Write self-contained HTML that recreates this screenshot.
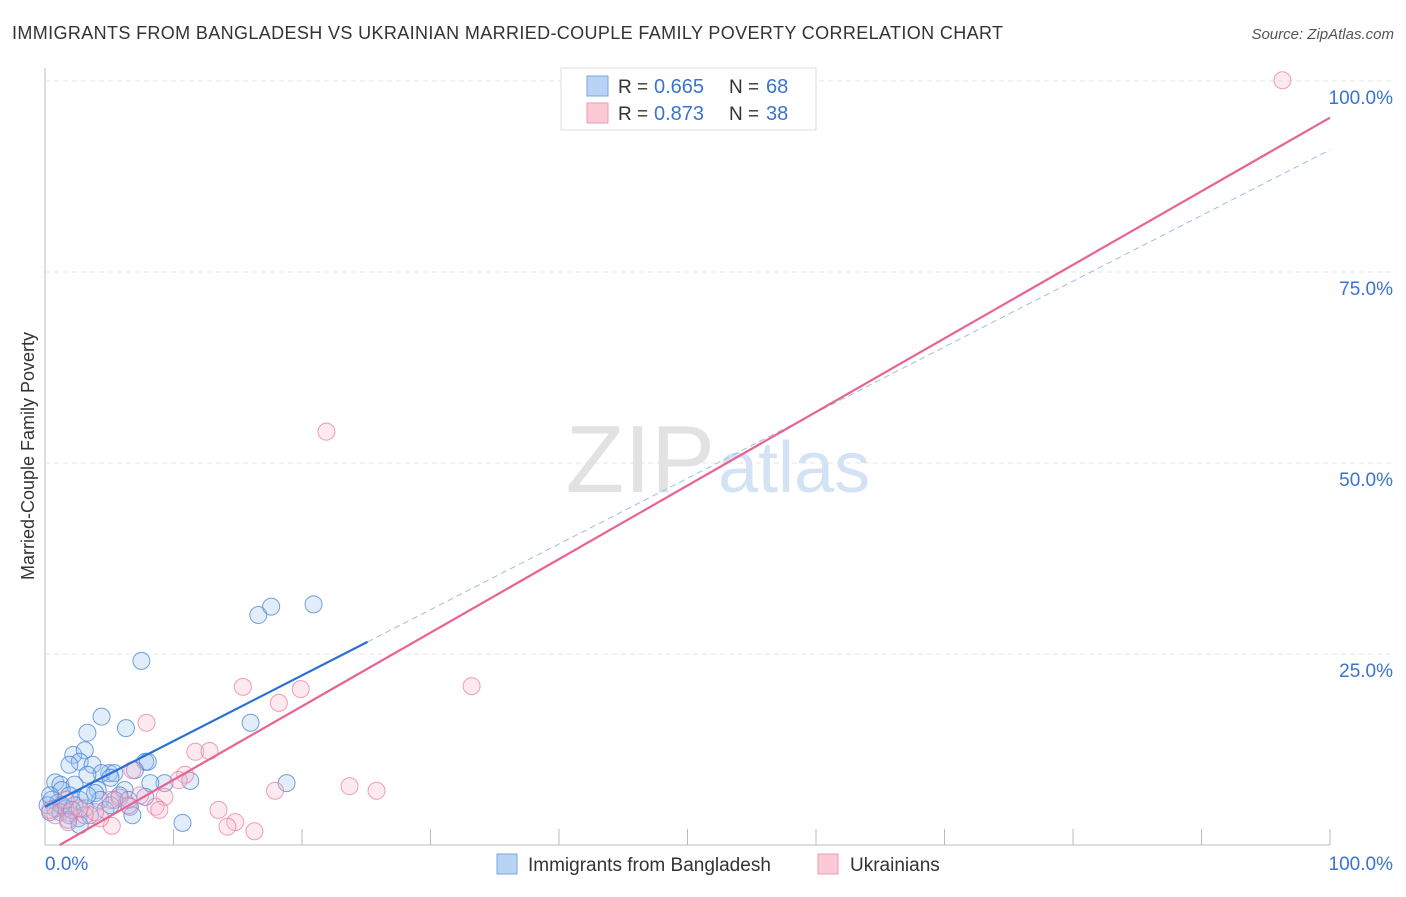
<!DOCTYPE html>
<html><head><meta charset="utf-8"><style>
body{margin:0;background:#fff;font-family:"Liberation Sans",sans-serif;}
svg text{font-family:"Liberation Sans",sans-serif;}
</style></head><body>
<svg id="chart" width="1406" height="892">
<text x="12" y="39" font-size="18" fill="#333" textLength="991">IMMIGRANTS FROM BANGLADESH VS UKRAINIAN MARRIED-COUPLE FAMILY POVERTY CORRELATION CHART</text>
<text x="1394" y="39" font-size="15" fill="#555" font-style="italic" text-anchor="end">Source: ZipAtlas.com</text>
<text transform="translate(34,456) rotate(-90)" font-size="18" fill="#333" text-anchor="middle">Married-Couple Family Poverty</text>
<g id="grid"></g>
<text x="715" y="492" font-size="96" fill="#e2e2e2" font-family="Liberation Serif" text-anchor="end">ZIP</text>
<text x="718" y="492" font-size="72" fill="#d3e3f5">atlas</text>
<g id="marks"></g>
<g>
<rect x="561" y="68" width="255" height="62" fill="#fff" stroke="#ddd"/>
<rect x="587" y="76" width="21" height="20" fill="#b9d3f5" stroke="#7aa7e0"/>
<rect x="587" y="103" width="21" height="20" fill="#fcc9d7" stroke="#ee9ab3"/>
<text x="618" y="93" font-size="19" fill="#333">R =</text>
<text x="654" y="93" font-size="20" fill="#3a73d0">0.665</text>
<text x="729" y="93" font-size="19" fill="#333">N =</text>
<text x="766" y="93" font-size="20" fill="#3a73d0">68</text>
<text x="618" y="120" font-size="19" fill="#333">R =</text>
<text x="654" y="120" font-size="20" fill="#3a73d0">0.873</text>
<text x="729" y="120" font-size="19" fill="#333">N =</text>
<text x="766" y="120" font-size="20" fill="#3a73d0">38</text>
</g>
<g>
<rect x="497" y="854" width="20" height="20" fill="#b9d3f5" stroke="#7aa7e0"/>
<text x="528" y="871" font-size="19" fill="#333">Immigrants from Bangladesh</text>
<rect x="818" y="854" width="20" height="20" fill="#fcc9d7" stroke="#ee9ab3"/>
<text x="850" y="871" font-size="19" fill="#333">Ukrainians</text>
</g>
</svg>
<script>
const blueX=[7.5,16.6,17.6,20.9,4.4,6.3,16.0,3.3,2.2,3.1,2.7,3.7,1.9,7.8,8.0,7.0,5.0,4.4,3.3,5.4,0.8,1.2,2.3,1.3,4.1,5.1,9.3,11.3,18.8,8.2,6.2,1.9,2.7,3.9,5.8,7.8,0.5,1.0,0.2,0.8,1.6,2.3,3.1,4.3,5.4,6.5,4.7,6.6,6.8,0.4,1.2,1.9,2.6,3.5,1.8,2.7,10.7,1.3,2.1,0.4,3.3,5.1];
const blueY=[24.1,30.1,31.2,31.5,16.8,15.3,16.0,14.7,11.8,12.4,10.9,10.5,10.5,10.9,10.9,9.8,9.4,9.4,9.2,9.4,8.2,7.9,7.9,7.2,7.2,8.8,8.1,8.4,8.1,8.1,7.2,6.5,5.9,6.8,6.5,6.3,5.9,5.5,5.2,4.8,4.8,5.2,4.8,5.9,5.9,5.9,4.6,5.0,3.9,4.3,4.3,3.9,3.5,3.9,3.3,2.6,2.9,5.2,4.6,6.5,6.5,5.2];
const pinkX=[96.3,21.9,15.4,19.9,33.2,18.2,7.9,11.7,12.8,10.9,10.4,6.8,9.3,8.6,5.1,23.7,25.8,17.9,13.5,14.8,14.2,16.3,5.2,4.3,3.1,1.9,0.8,0.4,1.6,2.7,5.8,7.4,8.9,3.9,1.8,6.5];
const pinkY=[100.1,54.1,20.7,20.4,20.8,18.6,16.0,12.2,12.3,9.2,8.5,9.8,6.3,5.0,5.9,7.7,7.1,7.1,4.6,3.0,2.4,1.8,2.5,3.5,3.9,4.2,3.9,4.6,5.9,4.8,6.2,6.5,4.6,4.3,3.0,5.2];
const blueFit=[5.0,0.86];
const pinkFit=[-1.1,0.963];
const yTicks=[25,50,75,100];
const xTicks=[10,20,30,40,50,60,70,80,90,100];
const NS='http://www.w3.org/2000/svg';
const sx=v=>45+v*12.85, sy=v=>845-v*7.64;
function mk(tag,attrs,parent){const e=document.createElementNS(NS,tag);for(const k in attrs)e.setAttribute(k,attrs[k]);parent.appendChild(e);return e;}
const grid=document.getElementById('grid'),marks=document.getElementById('marks');
let ax=mk('line',{x1:45,y1:68,x2:45,y2:845,stroke:'#bbb'},grid);


let bx=mk('line',{x1:45,y1:845,x2:1330,y2:845,stroke:'#bbb'},grid);


yTicks.forEach(t=>{
 let g=mk('line',{x1:45,y1:sy(t),x2:1394,y2:sy(t),stroke:'#e4e4e4','stroke-dasharray':'5,4'},grid);
 
 
 let l=mk('text',{x:1393,y:sy(t)+23,'font-size':19,fill:'#3a73d0','text-anchor':'end'},grid);
 l.textContent=t.toFixed(1)+'%';
 
 
});
xTicks.forEach(t=>{
 let k=mk('line',{x1:sx(t),y1:829,x2:sx(t),y2:845,stroke:'#bbb'},grid);
 
 
});
let x0=mk('text',{x:45,y:870,'font-size':19,fill:'#3a73d0'},grid);x0.textContent='0.0%';


let x1=mk('text',{x:1393,y:870,'font-size':19,fill:'#3a73d0','text-anchor':'end'},grid);x1.textContent='100.0%';


blueX.forEach((v,i)=>{
 let c=mk('circle',{cx:sx(v),cy:sy(blueY[i]),r:8.5,fill:'rgba(160,196,240,0.3)',stroke:'rgba(70,130,215,0.75)','stroke-width':1},marks);
 
 
});
pinkX.forEach((v,i)=>{
 let c=mk('circle',{cx:sx(v),cy:sy(pinkY[i]),r:8.5,fill:'rgba(250,185,205,0.3)',stroke:'rgba(232,120,155,0.7)','stroke-width':1},marks);
 
 
});
let bl=mk('line',{x1:sx(0),y1:sy(blueFit[0]),x2:sx(25.1),y2:sy(blueFit[0]+blueFit[1]*25.1),stroke:'#2a6fd6','stroke-width':2.2},marks);


let bd=mk('line',{x1:sx(25.1),y1:sy(blueFit[0]+blueFit[1]*25.1),x2:sx(100),y2:sy(blueFit[0]+blueFit[1]*100),stroke:'#9dbde8','stroke-width':1,'stroke-dasharray':'6,4'},marks);


const px0=-pinkFit[0]/pinkFit[1];
let pl=mk('line',{x1:sx(px0),y1:sy(0),x2:sx(100),y2:sy(pinkFit[0]+pinkFit[1]*100),stroke:'#e8648f','stroke-width':2.2},marks);


</script>
</body></html>
